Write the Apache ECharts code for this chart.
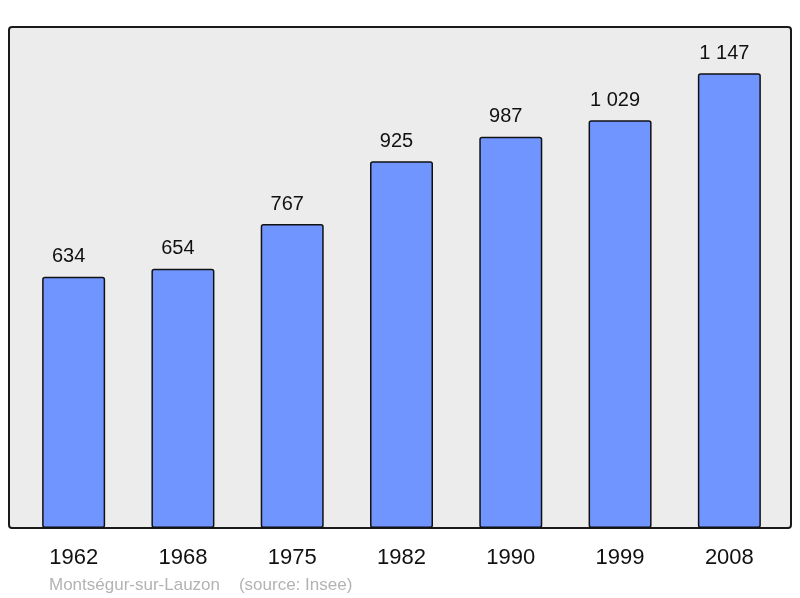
<!DOCTYPE html>
<html>
<head>
<meta charset="utf-8">
<script src="https://cdn.jsdelivr.net/npm/echarts@6/dist/echarts.min.js"></script>
<style>
  html, body { margin: 0; padding: 0; background: #fff; }
  #chart { width: 800px; height: 598px; }
</style>
</head>
<body>
<div id="chart"></div>
<script>
const years = ['1962', '1968', '1975', '1982', '1990', '1999', '2008']
const population = [634, 654, 767, 925, 987, 1029, 1147]
const footerText = 'Montségur-sur-Lauzon    (source: Insee)'

// 1 029 style grouping
function fmt(v) {
  return String(v).replace(/\B(?=(\d{3})+(?!\d))/g, ' ')
}

const chart = echarts.init(document.getElementById('chart'))

chart.setOption({
  animation: false,
  textStyle: { fontFamily: 'Liberation Sans, Arial, sans-serif' },
  graphic: [
    {
      type: 'rect',
      z: -10,
      shape: { x: 9, y: 27, width: 782, height: 501, r: 3 },
      style: { fill: '#ececec', stroke: '#1a1a1a', lineWidth: 2 }
    },
    {
      type: 'text',
      left: 49,
      top: 577,
      style: {
        text: footerText,
        fill: '#b3b3b3',
        fontSize: 17,
        fontFamily: 'Liberation Sans, Arial, sans-serif'
      }
    }
  ],
  grid: { left: 19, top: 27, width: 765, height: 501, containLabel: false },
  xAxis: {
    type: 'category',
    data: years,
    axisLine: { show: false },
    axisTick: { show: false },
    axisLabel: { color: '#111', fontSize: 22, margin: 19 }
  },
  yAxis: {
    type: 'value',
    min: 0,
    max: 1264,
    show: false,
    splitLine: { show: false }
  },
  series: [
    {
      type: 'bar',
      data: population,
      barWidth: 63,
      itemStyle: {
        color: '#7195ff',
        borderColor: '#111',
        borderWidth: 1.5,
        borderRadius: 2
      },
      label: {
        show: true,
        position: 'top',
        distance: 10,
        offset: [-5, 0],
        color: '#111',
        fontSize: 20,
        formatter: p => fmt(p.value)
      }
    }
  ]
})
</script>
</body>
</html>
